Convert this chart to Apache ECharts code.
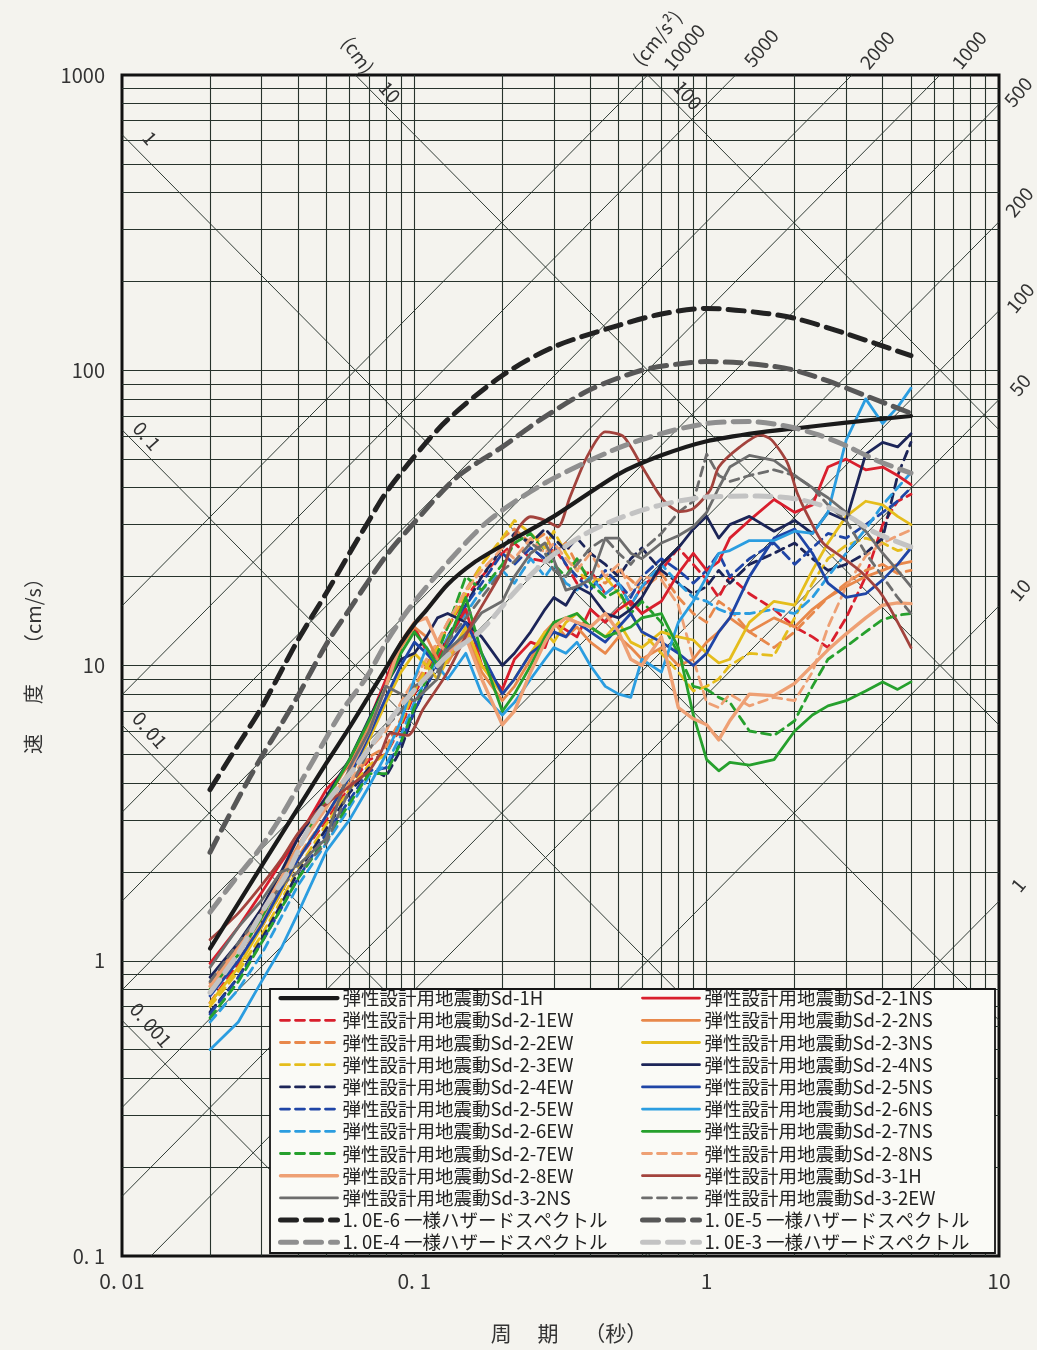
<!DOCTYPE html>
<html>
<head>
<meta charset="utf-8">
<script src="https://cdn.jsdelivr.net/npm/echarts@6/dist/echarts.min.js"></script>
<style>
  html, body { margin: 0; padding: 0; background: #f4f3ee; }
  #chart { width: 1037px; height: 1350px; }
</style>
</head>
<body>
<div id="chart"></div>
<script>
// ---- period grid shared by the Sd-2 / Sd-3-2 spectra (s) ----
const PERIOD_GRID = [0.02,0.025,0.03,0.035,0.04,0.05,0.06,0.07,0.08,0.09,
  0.1,0.11,0.12,0.13,0.15,0.17,0.2,0.22,0.25,0.28,
  0.3,0.33,0.36,0.4,0.45,0.5,0.55,0.6,0.7,0.8,
  0.9,1.0,1.1,1.2,1.4,1.7,2.0,2.3,2.6,3.0,
  3.5,4.0,4.5,5.0];

// ---- pseudo velocity response (cm/s) ----
const SD2_1NS = [0.98,1.3,1.7,2.15,2.6,3.8,4.6,6.5,9.0,12.0,
  13.5,11.2,10.5,12.2,15.5,10.0,8.3,10.5,12.0,11.5,
  14.0,13.2,12.5,15.5,14.0,15.5,16.5,15.0,16.5,20.5,
  24.0,21.0,22.5,27.0,31.0,36.5,33.0,35.0,47.0,50.0,
  46.0,47.0,44.0,41.0];
const SD2_1EW = [0.72,0.98,1.3,1.7,2.2,3.0,3.9,4.8,5.0,6.2,
  8.0,9.5,11.5,13.5,17.0,20.0,24.0,26.0,23.0,22.5,
  25.0,22.0,19.0,21.0,17.5,19.0,16.0,18.5,21.0,25.0,
  22.0,19.5,17.0,20.0,17.5,15.5,13.5,12.5,11.5,14.5,
  20.0,30.0,36.0,38.0];
const SD2_2NS = [0.84,1.12,1.5,1.95,2.45,3.5,4.7,6.3,8.6,11.5,
  13.5,12.5,10.5,10.2,13.0,9.5,7.6,8.5,10.5,13.0,
  14.0,12.5,13.5,12.0,11.0,12.5,11.5,10.5,11.5,10.0,
  10.5,12.0,13.0,14.5,13.0,14.5,13.5,15.5,17.0,18.5,
  20.0,21.0,22.0,22.5];
const SD2_2EW = [0.8,1.05,1.38,1.78,2.25,3.1,4.0,4.9,5.3,6.6,
  8.5,10.0,12.0,14.0,18.0,22.0,27.0,29.0,26.0,28.0,
  24.0,26.0,22.0,20.0,19.0,21.0,19.5,18.0,20.5,17.0,
  15.0,14.0,16.5,15.5,13.0,11.5,13.0,15.0,17.0,19.0,
  21.0,22.0,20.5,21.0];
const SD2_3NS = [0.72,0.95,1.3,1.7,2.2,3.1,4.2,5.6,7.5,9.5,
  11.0,10.0,9.0,10.5,13.5,10.0,8.0,9.0,11.0,13.0,
  12.0,14.0,15.0,13.5,12.5,14.0,12.0,11.5,13.0,12.5,
  12.2,11.0,10.2,10.5,14.0,16.5,16.0,21.0,26.0,32.0,
  36.0,35.0,32.0,30.0];
const SD2_3EW = [0.7,0.92,1.22,1.6,2.05,2.9,3.8,4.6,5.0,6.4,
  8.2,9.8,11.5,13.5,17.5,22.0,27.0,31.0,28.0,25.0,
  28.5,24.0,21.0,19.0,20.0,17.5,15.0,13.0,11.0,9.5,
  8.2,8.5,9.0,10.0,11.0,10.8,14.5,19.0,23.0,25.5,
  27.0,26.0,24.5,25.0];
const SD2_4NS = [0.88,1.15,1.5,2.0,2.6,3.6,4.8,6.6,8.6,10.5,
  11.0,12.5,14.5,15.0,14.0,12.5,10.0,11.0,13.0,15.5,
  17.0,16.0,18.5,17.5,15.0,14.5,15.5,17.0,22.0,25.0,
  29.0,32.0,27.0,30.0,32.0,28.5,31.0,28.0,33.0,31.0,
  52.0,57.0,55.0,61.0];
const SD2_4EW = [0.67,0.88,1.18,1.55,2.0,2.8,3.7,4.5,4.2,5.2,
  7.0,8.5,10.5,12.5,16.0,20.0,25.0,28.0,26.0,29.0,
  27.0,24.5,27.0,24.0,22.0,20.0,23.0,25.0,21.0,19.0,
  17.5,18.5,21.0,19.0,22.0,24.0,26.0,23.0,21.0,22.0,
  24.0,27.0,44.0,57.0];
const SD2_5NS = [0.76,1.0,1.32,1.75,2.2,3.1,4.2,5.8,7.8,10.0,
  12.0,11.0,10.0,11.5,14.0,11.0,8.0,9.0,11.0,12.0,
  13.0,12.5,14.0,13.0,12.0,13.5,15.0,13.0,12.0,11.0,
  10.0,11.0,13.0,14.5,20.0,27.0,29.0,24.0,19.0,17.0,
  17.5,19.5,22.0,25.0];
const SD2_5EW = [0.66,0.88,1.15,1.5,1.9,2.7,3.5,4.4,4.5,5.5,
  7.0,8.5,10.0,12.0,16.0,19.0,24.0,22.0,25.0,23.0,
  26.0,22.0,20.0,18.0,21.0,19.0,17.0,20.0,23.0,21.0,
  19.0,21.0,24.0,20.0,23.0,26.0,22.0,25.0,28.0,27.0,
  30.0,33.0,36.0,40.0];
const SD2_6NS = [0.5,0.62,0.85,1.1,1.45,2.35,3.0,3.9,5.0,6.5,
  9.0,11.5,10.0,9.0,11.0,8.0,6.8,7.5,9.0,10.5,
  11.5,11.0,12.0,10.0,8.5,8.0,7.8,10.5,9.5,14.0,
  16.5,20.0,24.0,24.5,26.5,26.5,28.5,28.0,33.0,58.0,
  80.0,66.0,75.0,87.0];
const SD2_6EW = [0.62,0.8,1.05,1.4,1.8,2.5,3.3,4.2,4.6,5.8,
  7.5,9.0,10.5,12.5,15.0,18.0,21.0,19.0,23.0,20.0,
  22.0,19.0,18.0,20.0,17.5,19.0,16.0,18.5,22.0,19.0,
  17.0,16.5,15.5,15.0,15.0,15.5,15.0,17.0,20.0,24.0,
  29.0,35.0,40.0,45.0];
const SD2_7NS = [0.8,1.05,1.4,1.85,2.4,3.5,4.8,6.5,8.5,11.0,
  13.0,11.5,10.0,12.0,17.0,11.0,7.0,8.0,10.0,12.5,
  14.0,14.5,15.0,13.5,12.5,13.0,13.5,14.5,15.0,11.5,
  6.8,4.8,4.4,4.7,4.6,4.8,6.0,6.8,7.3,7.6,
  8.2,8.8,8.3,8.8];
const SD2_7EW = [0.64,0.85,1.15,1.5,1.9,2.6,3.4,4.3,4.3,5.5,
  7.2,9.0,11.0,13.5,20.0,18.0,22.0,26.0,28.0,24.0,
  22.0,20.0,23.0,19.0,17.0,18.0,15.0,16.5,14.0,11.0,
  8.5,8.3,7.8,7.5,6.0,5.8,6.5,8.5,10.5,11.6,
  13.0,14.3,14.8,15.0];
const SD2_8EW = [0.82,1.1,1.45,1.9,2.4,3.3,4.4,6.0,8.5,12.0,
  14.0,14.5,12.0,11.0,12.5,9.0,6.3,7.0,9.5,12.0,
  13.5,14.5,14.0,13.5,15.0,13.0,10.5,10.0,12.5,7.2,
  6.6,6.3,5.6,6.5,8.0,7.9,8.7,10.0,11.3,12.8,
  14.5,16.0,16.3,16.2];
const SD2_8NS = [0.78,1.0,1.35,1.75,2.2,3.1,4.0,5.2,6.0,7.5,
  9.0,10.5,12.0,14.0,18.0,21.0,25.0,23.0,27.0,24.0,
  26.0,23.0,21.0,24.0,20.0,22.0,18.0,20.0,19.5,16.0,
  10.5,7.5,7.2,8.0,7.3,7.8,7.6,9.5,13.5,18.5,
  23.5,26.0,27.5,28.8];
const SD3_2NS = [0.95,1.3,1.6,2.0,2.1,2.6,4.5,6.0,8.5,8.0,
  7.6,8.3,9.0,11.3,12.8,15.1,16.5,20.0,24.0,26.0,
  22.8,18.0,18.5,19.5,27.0,27.0,24.0,23.0,26.0,27.5,
  29.5,33.0,40.0,47.0,51.5,49.5,44.0,40.0,37.0,33.0,
  28.5,24.0,21.0,18.5];
const SD3_2EW = [0.85,1.15,1.45,1.8,2.0,2.5,3.8,5.2,6.2,7.0,
  8.5,9.0,9.5,12.0,14.5,17.0,21.0,22.5,26.0,24.0,
  21.0,20.0,22.0,25.0,27.0,24.0,22.0,24.5,28.0,33.0,
  36.0,52.0,44.0,42.0,44.0,46.0,44.0,40.0,35.0,31.0,
  24.0,20.0,17.0,15.0];

const T_SD1H = [0.02,0.03,0.04,0.05,0.06,0.07,0.08,0.09,0.1,0.11,0.13,0.16,0.2,0.3,0.5,0.7,1.0,1.5,2.0,3.0,5.0];
const V_SD1H = [1.1,2.09,3.29,4.67,6.17,7.9,9.8,11.9,13.8,15.4,18.8,22.3,25.5,32,44.5,51.5,57.5,61.5,63.5,66.5,70];

const T_SD31H = [0.02,0.025,0.03,0.035,0.04,0.045,0.05,0.06,0.07,0.077,
  0.083,0.095,0.107,0.13,0.16,0.2,0.225,0.25,0.28,0.31,
  0.34,0.39,0.45,0.52,0.61,0.71,0.81,0.9,1.03,1.1,
  1.3,1.53,1.67,1.89,2.04,2.26,2.5,2.9,3.4,4.0,5.0];
const V_SD31H = [1.18,1.45,1.8,2.2,2.7,3.1,3.4,3.9,4.4,5.1,
  5.9,5.8,7.1,9.5,14.3,21,28.8,31.9,31,29.5,
  37,51,61.8,59.5,46,36.4,33.2,34,39.4,47,
  55,60.4,58,48.5,38.4,31,26,23.3,20.6,17.2,11.5];

// uniform hazard spectra
const T_HZ6 = [0.02,0.025,0.03,0.04,0.05,0.06,0.07,0.08,0.1,0.13,0.2,0.3,0.5,0.7,1.0,1.5,2.0,3.0,5.0];
const V_HZ6 = [3.8,5.4,7.2,12.2,17.6,24,31,38.5,51,68,96,120,142,155,162,157,150,133,112];
const T_HZ5 = [0.02,0.025,0.03,0.035,0.04,0.05,0.06,0.08,0.1,0.14,0.2,0.27,0.4,0.6,0.8,1.0,1.3,1.7,2.0,2.6,3.5,5.0];
const V_HZ5 = [2.33,3.55,4.9,6.3,7.9,11.8,15.5,23.5,30.5,43.5,55,68,86,100,105,107,106,103,100,92,82,71.5];
const T_HZ4 = [0.02,0.024,0.029,0.035,0.042,0.049,0.057,0.069,0.081,0.097,0.13,0.18,0.28,0.48,0.7,1.0,1.4,1.9,2.4,3.0,3.8,5.0];
const V_HZ4 = [1.46,1.85,2.33,3.08,4.22,5.5,7.1,9.2,12.2,15.8,22.3,31,41.5,53.7,61,66,67,64.5,60.5,55.5,49.6,44.8];
const T_HZ3 = [0.02,0.025,0.031,0.037,0.044,0.053,0.062,0.075,0.09,0.105,0.13,0.17,0.22,0.28,0.37,0.5,0.7,1.0,1.5,2.1,2.9,3.8,5.0];
const V_HZ3 = [0.78,1.06,1.53,2.0,2.86,3.7,4.45,5.75,7.3,8.7,10.8,13.2,17.7,22.5,27.3,31.5,35.0,37.2,37.5,36.4,32.9,28.1,25.2];

// tripartite guide lines: displacement (cm) and acceleration (cm/s^2)
const DISP_LINES = [0.001, 0.01, 0.1, 1, 10, 100];
const ACC_LINES = [1, 10, 50, 100, 200, 500, 1000, 2000, 5000, 10000];

const T_MIN = 0.01, T_MAX = 10, V_MIN = 0.1, V_MAX = 1000;
const FONT = "'Noto Sans CJK JP','Noto Sans',sans-serif";
const GRID_COLOR = '#27332c';

// ---- guide geometry ----
const rectLines = [];
for (let e = -2; e <= 0; e++) {
  for (let m = 1; m <= 9; m++) {
    const t = +(m * Math.pow(10, e)).toPrecision(6);
    if (t > T_MIN && t < T_MAX) rectLines.push({ coords: [[t, V_MIN], [t, V_MAX]] });
  }
}
for (let e = -1; e <= 2; e++) {
  for (let m = 1; m <= 9; m++) {
    const v = +(m * Math.pow(10, e)).toPrecision(6);
    if (v > V_MIN && v < V_MAX) rectLines.push({ coords: [[T_MIN, v], [T_MAX, v]] });
  }
}
const diagLines = [];
const TWO_PI = 2 * Math.PI;
DISP_LINES.forEach(d => {
  const f = t => TWO_PI * d / t;
  const t0 = Math.max(T_MIN, TWO_PI * d / V_MAX);
  const t1 = Math.min(T_MAX, TWO_PI * d / V_MIN);
  if (t1 > t0) diagLines.push({ coords: [[t0, f(t0)], [t1, f(t1)]] });
});
ACC_LINES.forEach(a => {
  const f = t => a * t / TWO_PI;
  const t0 = Math.max(T_MIN, V_MIN * TWO_PI / a);
  const t1 = Math.min(T_MAX, V_MAX * TWO_PI / a);
  if (t1 > t0) diagLines.push({ coords: [[t0, f(t0)], [t1, f(t1)]] });
});

// ---- series ----
const zip = (ts, vs) => ts.map((t, i) => [t, vs[i]]);
function curve(name, ts, vs, color, width, dash, extra) {
  return Object.assign({
    type: 'line', name: name, data: zip(ts, vs),
    symbol: 'none', showSymbol: false, silent: true, animation: false,
    clip: true, z: 3,
    itemStyle: { color: color },
    lineStyle: { color: color, width: width, type: dash || 'solid', cap: 'round', join: 'round' },
    emphasis: { disabled: true }
  }, extra || {});
}

const P = '弾性設計用地震動';
const D_COL = [9, 6];
const D_HZ = [16, 9];
const C = {
  red: '#d91f2d', orange: '#e8884b', peach: '#eea074', yellow: '#e5bd1c',
  navy: '#1c2558', blue: '#1f45a6', lblue: '#2b9de0', green: '#26a02d',
  brown: '#a3433d', gray: '#6d6d6d', black: '#1a1a1a',
  hz6: '#222222', hz5: '#575757', hz4: '#8f8f8f', hz3: '#c3c3c3'
};
const G = PERIOD_GRID;

const series = [
  { type: 'lines', coordinateSystem: 'cartesian2d', polyline: false, data: rectLines, silent: true,
    animation: false, z: 1, lineStyle: { color: GRID_COLOR, width: 1.1, opacity: 1 } },
  { type: 'lines', coordinateSystem: 'cartesian2d', polyline: false, data: diagLines, silent: true,
    animation: false, z: 1, lineStyle: { color: GRID_COLOR, width: 1, opacity: 0.95 } },

  curve(P + 'Sd-2-1EW', G, SD2_1EW, C.red, 2.8, D_COL),
  curve(P + 'Sd-2-2EW', G, SD2_2EW, C.orange, 2.8, D_COL),
  curve(P + 'Sd-2-3EW', G, SD2_3EW, C.yellow, 2.8, D_COL),
  curve(P + 'Sd-2-4EW', G, SD2_4EW, C.navy, 2.8, D_COL),
  curve(P + 'Sd-2-5EW', G, SD2_5EW, C.blue, 2.8, D_COL),
  curve(P + 'Sd-2-6EW', G, SD2_6EW, C.lblue, 2.8, D_COL),
  curve(P + 'Sd-2-7EW', G, SD2_7EW, C.green, 2.8, D_COL),
  curve(P + 'Sd-2-8NS', G, SD2_8NS, C.peach, 2.8, D_COL),
  curve(P + 'Sd-2-1NS', G, SD2_1NS, C.red, 2.8),
  curve(P + 'Sd-2-2NS', G, SD2_2NS, C.orange, 2.8),
  curve(P + 'Sd-2-3NS', G, SD2_3NS, C.yellow, 2.8),
  curve(P + 'Sd-2-4NS', G, SD2_4NS, C.navy, 2.8),
  curve(P + 'Sd-2-5NS', G, SD2_5NS, C.blue, 2.8),
  curve(P + 'Sd-2-6NS', G, SD2_6NS, C.lblue, 2.8),
  curve(P + 'Sd-2-7NS', G, SD2_7NS, C.green, 2.8),
  curve(P + 'Sd-2-8EW', G, SD2_8EW, C.peach, 3.4),
  curve(P + 'Sd-3-2EW', G, SD3_2EW, C.gray, 2.8, D_COL),
  curve(P + 'Sd-3-2NS', G, SD3_2NS, C.gray, 2.8),
  curve(P + 'Sd-3-1H', T_SD31H, V_SD31H, C.brown, 2.8, null, { smooth: 0.25 }),
  curve(P + 'Sd-1H', T_SD1H, V_SD1H, C.black, 4.2, null, { smooth: 0.25, z: 4 }),
  curve('1. 0E-3 一様ハザードスペクトル', T_HZ3, V_HZ3, C.hz3, 5, D_HZ, { smooth: 0.3, z: 4 }),
  curve('1. 0E-4 一様ハザードスペクトル', T_HZ4, V_HZ4, C.hz4, 5, D_HZ, { smooth: 0.3, z: 4 }),
  curve('1. 0E-5 一様ハザードスペクトル', T_HZ5, V_HZ5, C.hz5, 5, D_HZ, { smooth: 0.3, z: 4 }),
  curve('1. 0E-6 一様ハザードスペクトル', T_HZ6, V_HZ6, C.hz6, 5, D_HZ, { smooth: 0.3, z: 4 })
];

const LEGEND_LEFT = [P + 'Sd-1H', P + 'Sd-2-1EW', P + 'Sd-2-2EW', P + 'Sd-2-3EW', P + 'Sd-2-4EW',
  P + 'Sd-2-5EW', P + 'Sd-2-6EW', P + 'Sd-2-7EW', P + 'Sd-2-8EW', P + 'Sd-3-2NS',
  '1. 0E-6 一様ハザードスペクトル', '1. 0E-4 一様ハザードスペクトル'];
const LEGEND_RIGHT = [P + 'Sd-2-1NS', P + 'Sd-2-2NS', P + 'Sd-2-3NS', P + 'Sd-2-4NS', P + 'Sd-2-5NS',
  P + 'Sd-2-6NS', P + 'Sd-2-7NS', P + 'Sd-2-8NS', P + 'Sd-3-1H', P + 'Sd-3-2EW',
  '1. 0E-5 一様ハザードスペクトル', '1. 0E-3 一様ハザードスペクトル'];

function legendAt(left, names) {
  return {
    data: names, left: left, top: 987, orient: 'vertical', padding: 0,
    itemWidth: 57, itemHeight: 12, itemGap: 0, selectedMode: false, z: 6,
    // line samples only, no marker in the middle
    itemStyle: { opacity: 0, borderWidth: 0 },
    lineStyle: { width: 'inherit' },
    textStyle: { fontFamily: FONT, fontSize: 18.5, lineHeight: 22.2, color: '#222' }
  };
}

// tripartite scale captions
const DISP_LABELS = [
  { text: '(cm)', x: 358, y: 55, r: -0.95 },
  { text: '10', x: 390, y: 92, r: -0.85 },
  { text: '100', x: 688, y: 95, r: -0.85 },
  { text: '1', x: 150, y: 138, r: -0.85 },
  { text: '0. 1', x: 147, y: 436, r: -0.85 },
  { text: '0. 01', x: 150, y: 730, r: -0.85 },
  { text: '0. 001', x: 151, y: 1025, r: -0.85 }
];
const ACC_LABELS = [
  { text: '(cm/s²)', x: 657, y: 38 },
  { text: '10000', x: 684, y: 47 },
  { text: '5000', x: 761, y: 48 },
  { text: '2000', x: 877, y: 50 },
  { text: '1000', x: 969, y: 50 },
  { text: '500', x: 1018, y: 92 },
  { text: '200', x: 1019, y: 202 },
  { text: '100', x: 1020, y: 298 },
  { text: '50', x: 1020, y: 385 },
  { text: '10', x: 1020, y: 590 },
  { text: '1', x: 1018, y: 885 }
];
const captionEl = (o, r) => ({
  type: 'text', x: o.x, y: o.y, rotation: r, z: 7, silent: true,
  style: { text: o.text, fill: '#333', font: '19px ' + FONT, align: 'center', verticalAlign: 'middle' }
});

const graphic = [
  { type: 'rect', z: 5, silent: true, shape: { x: 270, y: 989, width: 725, height: 264 },
    style: { fill: '#fafaf6', stroke: '#151515', lineWidth: 1.8 } },
  { type: 'text', x: 33, y: 661, rotation: Math.PI / 2, silent: true,
    style: { text: '速\u2002\u2003度\u3000\u3000（cm/s）', fill: '#333', font: '20px ' + FONT, align: 'center', verticalAlign: 'middle' } },
  { type: 'text', x: 569, y: 1333, silent: true,
    style: { text: '周\u3000 期\u3000 （秒）', fill: '#333', font: '21px ' + FONT, align: 'center', verticalAlign: 'middle' } }
].concat(DISP_LABELS.map(o => captionEl(o, o.r)), ACC_LABELS.map(o => captionEl(o, 0.88)));

function tickText(v) {
  const n = +Number(v).toPrecision(6);
  if (n === 0.01) return '0. 01';
  if (n === 0.1) return '0. 1';
  return String(n);
}

const chart = echarts.init(document.getElementById('chart'), null, { renderer: 'canvas' });
chart.setOption({
  backgroundColor: '#f4f3ee',
  animation: false,
  grid: { left: 122, right: 38, top: 75, bottom: 94, show: true, borderColor: '#111', borderWidth: 3,
    backgroundColor: 'transparent' },
  xAxis: {
    type: 'log', logBase: 10, min: T_MIN, max: T_MAX,
    axisLine: { show: false }, axisTick: { show: false }, splitLine: { show: false },
    axisLabel: { formatter: tickText, margin: 15, color: '#333', fontSize: 21, fontFamily: FONT,
      showMinLabel: true, showMaxLabel: true }
  },
  yAxis: {
    type: 'log', logBase: 10, min: V_MIN, max: V_MAX,
    axisLine: { show: false }, axisTick: { show: false }, splitLine: { show: false },
    axisLabel: { formatter: tickText, margin: 17, color: '#333', fontSize: 20, fontFamily: FONT,
      showMinLabel: true, showMaxLabel: true }
  },
  legend: [legendAt(278, LEGEND_LEFT), legendAt(640, LEGEND_RIGHT)],
  graphic: graphic,
  series: series
});
</script>
</body>
</html>
